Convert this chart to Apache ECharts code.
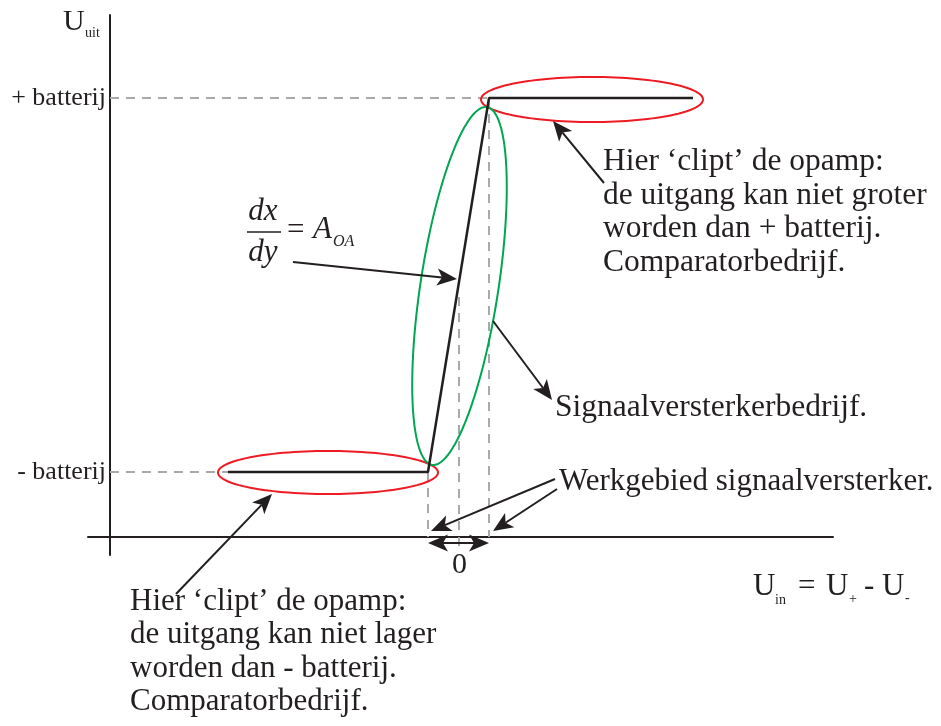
<!DOCTYPE html>
<html>
<head>
<meta charset="utf-8">
<script src="https://cdn.jsdelivr.net/npm/echarts@6.0.0/dist/echarts.min.js"></script>
<style>
  html, body { margin: 0; padding: 0; background: #ffffff; }
  #chart { width: 941px; height: 726px; }
</style>
</head>
<body>
<div id="chart"></div>
<script>
// Op-amp transfer characteristic: output voltage against differential input.
// Both axes share one arbitrary unit; the axes cross at (0, 0).

// Output levels the op-amp clips at
const levelNames = ['+ batterij', '- batterij'];
const levelValues = [43.9, 6.5];

// Transfer curve: clipped low, linear rise, clipped high
const curveX = [11.8, 31.8, 37.9, 58.3];
const curveY = [6.5, 6.5, 43.9, 43.9];

// Input where the amplifier sits at its midpoint ("0") and its working range
const inputZero = 34.9;
const inputZeroLevel = 24.0;
const workRange = [31.8, 37.9];

// Annotation outlines: [centreX, centreY, radiusAlong, radiusAcross, angleDeg]
const clipOutlines = [
  [48.2, 43.75, 11.1, 2.25, 0],
  [21.8, 6.45, 11.0, 2.15, 0]
];
const gainOutline = [[34.95, 25.1, 18.1, 3.9, 81.3]];

// Pointer arrows: [tail, head]
const pointers = [
  [[49.4, 35.4], [44.3, 41.6]],
  [[18.3, 27.5], [34.7, 25.8]],
  [[38.3, 21.6], [44.2, 13.7]],
  [[44.5, 5.8], [32.1, 0.6]],
  [[44.7, 4.8], [38.3, 0.6]],
  [[6.6, -5.7], [16.2, 4.3]]
];
const rangeArrowLevel = -0.6;

const INK = '#231f20';
const GUIDE = '#a7a9ac';
const SERIF = '"Liberation Serif", "Times New Roman", serif';

function txt(x, baseline, text, size, opt) {
  opt = opt || {};
  return {
    type: 'text',
    x: x,
    y: baseline - 0.34 * size,
    silent: true,
    style: {
      text: text,
      font: (opt.italic ? 'italic ' : '') + size + 'px ' + SERIF,
      fill: INK,
      align: opt.align || 'left',
      verticalAlign: 'middle'
    }
  };
}

function ellipseRenderer(params, api) {
  const c = api.coord([api.value(0), api.value(1)]);
  const unit = api.size([1, 1]);
  const a = api.value(2) * unit[0];
  const b = api.value(3) * unit[1];
  const phi = -api.value(4) * Math.PI / 180;
  const pts = [];
  const n = 120;
  for (let i = 0; i < n; i++) {
    const t = (i / n) * Math.PI * 2;
    const lx = a * Math.cos(t), ly = b * Math.sin(t);
    pts.push([
      c[0] + lx * Math.cos(phi) - ly * Math.sin(phi),
      c[1] + lx * Math.sin(phi) + ly * Math.cos(phi)
    ]);
  }
  return {
    type: 'polygon',
    shape: { points: pts },
    style: { fill: 'none', stroke: api.visual('color'), lineWidth: 2 }
  };
}

// Arrow with a notched, filled head (optionally at both ends)
const HEAD_LEN = 20, HEAD_HALF = 8.5, HEAD_NOTCH = 5;
function headPoints(tip, u) {
  const nx = -u[1], ny = u[0];
  const bx = tip[0] - u[0] * HEAD_LEN, by = tip[1] - u[1] * HEAD_LEN;
  return [
    tip,
    [bx + nx * HEAD_HALF, by + ny * HEAD_HALF],
    [tip[0] - u[0] * (HEAD_LEN - HEAD_NOTCH), tip[1] - u[1] * (HEAD_LEN - HEAD_NOTCH)],
    [bx - nx * HEAD_HALF, by - ny * HEAD_HALF]
  ];
}
function arrowRenderer(params, api) {
  const p0 = api.coord([api.value(0), api.value(1)]);
  const p1 = api.coord([api.value(2), api.value(3)]);
  const both = api.value(4) === 1;
  const dx = p1[0] - p0[0], dy = p1[1] - p0[1];
  const len = Math.sqrt(dx * dx + dy * dy);
  const u = [dx / len, dy / len];
  const back = HEAD_LEN - HEAD_NOTCH;
  const start = both ? [p0[0] + u[0] * back, p0[1] + u[1] * back] : p0;
  const end = [p1[0] - u[0] * back, p1[1] - u[1] * back];
  const children = [
    { type: 'line', shape: { x1: start[0], y1: start[1], x2: end[0], y2: end[1] },
      style: { stroke: INK, lineWidth: 2 } },
    { type: 'polygon', shape: { points: headPoints(p1, u) }, style: { fill: INK } }
  ];
  if (both) {
    children.push({ type: 'polygon', shape: { points: headPoints(p0, [-u[0], -u[1]]) }, style: { fill: INK } });
  }
  return { type: 'group', children: children };
}

const chart = echarts.init(document.getElementById('chart'), null, { renderer: 'canvas' });

const textBlocks = [];
const upperNote = ['Hier \u2018clipt\u2019 de opamp:', 'de uitgang kan niet groter', 'worden dan + batterij.', 'Comparatorbedrijf.'];
const upperBase = [172, 206, 239, 273];
upperNote.forEach((s, i) => textBlocks.push(txt(603, upperBase[i], s, 31.5)));
const lowerNote = ['Hier \u2018clipt\u2019 de opamp:', 'de uitgang kan niet lager', 'worden dan - batterij.', 'Comparatorbedrijf.'];
const lowerBase = [612, 645, 679, 712];
lowerNote.forEach((s, i) => textBlocks.push(txt(130, lowerBase[i], s, 31)));

const arrowData = pointers.map(p => [p[0][0], p[0][1], p[1][0], p[1][1], 0]);
arrowData.push([workRange[0], rangeArrowLevel, workRange[1], rangeArrowLevel, 1]);

const option = {
  animation: false,
  backgroundColor: '#ffffff',
  grid: { left: 88, right: 108, top: 15, bottom: 171, containLabel: false },
  xAxis: {
    type: 'value', min: -2.2, max: 72.3,
    axisLine: { show: true, onZero: true, lineStyle: { color: INK, width: 2 } },
    axisTick: { show: false }, axisLabel: { show: false }, splitLine: { show: false }
  },
  yAxis: {
    type: 'value', min: -1.8, max: 52.2,
    axisLine: { show: true, onZero: true, lineStyle: { color: INK, width: 2 } },
    axisTick: { show: false }, axisLabel: { show: false }, splitLine: { show: false }
  },
  series: [
    {
      name: 'guides',
      type: 'lines',
      coordinateSystem: 'cartesian2d',
      clip: false,
      z: 1,
      symbol: 'none',
      lineStyle: { color: GUIDE, width: 2, type: [9, 7], opacity: 1 },
      data: [
        { coords: [[workRange[0], curveY[1]], [workRange[0], 0]] },
        { coords: [[inputZero, inputZeroLevel], [inputZero, -1.0]] },
        { coords: [[workRange[1], curveY[2]], [workRange[1], 0]] }
      ]
    },
    {
      name: 'transfer',
      type: 'line',
      z: 4,
      symbol: 'none',
      clip: false,
      lineStyle: { color: INK, width: 2.5 },
      data: curveX.map((x, i) => [x, curveY[i]]),
      markLine: {
        silent: true,
        symbol: 'none',
        z: 1,
        lineStyle: { color: GUIDE, width: 2, type: [9, 7] },
        label: {
          show: true, position: 'start', distance: 4,
          color: INK, fontFamily: SERIF, fontSize: 26,
          formatter: p => p.name
        },
        data: [
          [{ name: levelNames[0], coord: [0, levelValues[0]] }, { coord: [curveX[2], levelValues[0]] }],
          [{ name: levelNames[1], coord: [0, levelValues[1]] }, { coord: [curveX[0], levelValues[1]] }]
        ]
      }
    },
    {
      name: 'clip',
      type: 'custom',
      clip: false,
      z: 3,
      itemStyle: { color: '#ed1c24' },
      renderItem: ellipseRenderer,
      encode: { x: 0, y: 1 },
      data: clipOutlines
    },
    {
      name: 'gain',
      type: 'custom',
      clip: false,
      z: 3,
      itemStyle: { color: '#00a651' },
      renderItem: ellipseRenderer,
      encode: { x: 0, y: 1 },
      data: gainOutline
    },
    {
      name: 'pointers',
      type: 'custom',
      clip: false,
      z: 5,
      renderItem: arrowRenderer,
      encode: { x: [0, 2], y: [1, 3] },
      data: arrowData
    }
  ],
  graphic: {
    elements: [
      txt(63, 32, 'U', 30),
      txt(85, 38, 'uit', 14),
      txt(459.5, 575, '0', 30, { align: 'center' }),
      txt(555, 418, 'Signaalversterkerbedrijf.', 31.5),
      txt(559, 492, 'Werkgebied signaalversterker.', 31),
      // U_in = U_+ - U_-
      txt(753, 597, 'U', 31),
      txt(775, 605, 'in', 14),
      txt(798, 597, '=', 31),
      txt(826, 597, 'U', 31),
      txt(849, 604, '+', 14),
      txt(864, 597, '-', 31),
      txt(882, 597, 'U', 31),
      txt(905, 603, '-', 14),
      // dx/dy = A_OA
      txt(263, 222, 'dx', 31, { italic: true, align: 'center' }),
      {
        type: 'line', silent: true,
        shape: { x1: 247, y1: 232, x2: 281, y2: 232 },
        style: { stroke: INK, lineWidth: 1.5 }
      },
      txt(263, 263, 'dy', 31, { italic: true, align: 'center' }),
      txt(287, 241, '=', 31),
      txt(313, 240, 'A', 31, { italic: true }),
      txt(333, 247, 'OA', 16, { italic: true })
    ].concat(textBlocks)
  }
};

chart.setOption(option);
</script>
</body>
</html>
